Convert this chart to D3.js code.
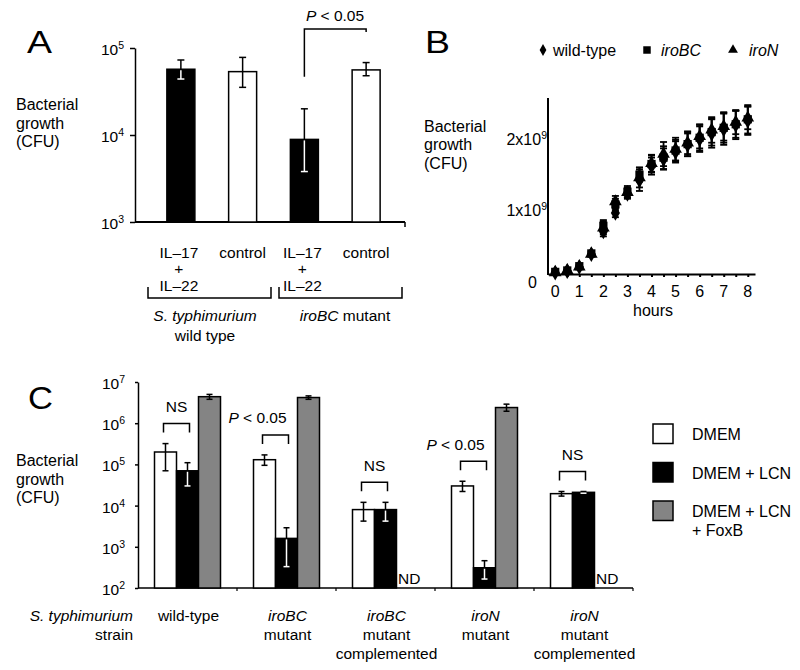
<!DOCTYPE html>
<html><head><meta charset="utf-8">
<script src="https://cdn.jsdelivr.net/npm/d3@7"></script>
<style>
body{margin:0;background:#fff}
text{font-family:"Liberation Sans",Arial,Helvetica,sans-serif;fill:#000}
</style>
</head><body>
<svg id="c" width="800" height="670"></svg>
<script>
// ================= Panel A data =================
const aCategories = ["IL–17 + IL–22", "control", "IL–17 + IL–22", "control"];
const aTreatment = ["cytokine", "control", "cytokine", "control"];
const aValues  = [57000, 53500, 8900, 56000];
const aErrLow  = [44000, 35300, 3800, 48000];
const aErrHigh = [72800, 78000, 20000, 68000];
const aYTicks  = [1e3, 1e4, 1e5];

// ================= Panel B data =================
const bHours     = [0, 0.5, 1, 1.5, 2, 2.5, 3, 3.5, 4, 4.5, 5, 5.5, 6, 6.5, 7, 7.5, 8];
const bWildType  = [0.02, 0.04, 0.10, 0.28, 0.60, 0.86, 1.13, 1.32, 1.52, 1.62, 1.72, 1.82, 1.90, 1.98, 2.04, 2.10, 2.16];
const bWildErr   = [0.01, 0.01, 0.02, 0.03, 0.07, 0.06, 0.07, 0.15, 0.12, 0.15, 0.15, 0.16, 0.18, 0.20, 0.22, 0.20, 0.20];
const bIroBC     = [0.03, 0.05, 0.11, 0.29, 0.68, 0.98, 1.16, 1.40, 1.55, 1.64, 1.74, 1.83, 1.92, 2.00, 2.06, 2.11, 2.18];
const bIroBCErr  = [0.01, 0.01, 0.02, 0.03, 0.08, 0.08, 0.08, 0.10, 0.12, 0.16, 0.15, 0.17, 0.18, 0.19, 0.21, 0.19, 0.20];
const bIroN      = [0.02, 0.05, 0.10, 0.28, 0.65, 1.02, 1.15, 1.36, 1.56, 1.69, 1.76, 1.85, 1.94, 2.03, 2.08, 2.14, 2.20];
const bIroNErr   = [0.01, 0.01, 0.02, 0.03, 0.09, 0.08, 0.07, 0.14, 0.12, 0.17, 0.16, 0.16, 0.17, 0.18, 0.20, 0.17, 0.16];
const bXTicks    = [0, 1, 2, 3, 4, 5, 6, 7, 8];
const bYTicks    = [0, 1, 2];          // ×10^9
const bSeriesNames = ["wild-type", "iroBC", "iroN"];

// ================= Panel C data =================
const cStrains    = ["wild-type", "iroBC mutant", "iroBC mutant complemented", "iroN mutant", "iroN mutant complemented"];
const cConditions = ["DMEM", "DMEM + LCN", "DMEM + LCN + FoxB"];
const cDMEM         = [2.0e5, 1.3e5, 8.0e3, 3.0e4, 1.95e4];
const cDMEMErrLow   = [7.0e4, 9.5e4, 4.2e3, 2.2e4, 1.7e4];
const cDMEMErrHigh  = [3.2e5, 1.7e5, 1.2e4, 3.9e4, 2.2e4];
const cLCN          = [7.0e4, 1.6e3, 8.0e3, 310, 2.1e4];
const cLCNErrLow    = [3.0e4, 330, 4.2e3, 165, 2.0e4];
const cLCNErrHigh   = [1.1e5, 2.9e3, 1.2e4, 460, 2.2e4];
const cFoxB         = [4.4e6, 4.2e6, null, 2.4e6, null];
const cFoxBErrLow   = [3.8e6, 3.8e6, null, 1.95e6, null];
const cFoxBErrHigh  = [5.0e6, 4.6e6, null, 2.9e6, null];
const cSignif       = ["NS", "P < 0.05", "NS", "P < 0.05", "NS"];
const cYTicks       = [1e2, 1e3, 1e4, 1e5, 1e6, 1e7];

// ================= drawing =================
const svg = d3.select("#c");
const FS = "15.5px";
const GRAY = "#848484";

function txt(g, x, y, s, opts = {}) {
  const t = g.append("text").attr("x", x).attr("y", y)
    .attr("text-anchor", opts.anchor || "start")
    .style("font-size", opts.size || FS);
  if (opts.italic) t.style("font-style", "italic");
  t.text(s);
  return t;
}
function richTxt(g, x, y, parts, anchor = "middle", size = FS) {
  const t = g.append("text").attr("x", x).attr("y", y).attr("text-anchor", anchor).style("font-size", size);
  parts.forEach(p => {
    const ts = t.append("tspan").text(p[0]);
    if (p[1]) ts.style("font-style", "italic");
  });
  return t;
}
function logLabel(g, x, y, v) {
  const t = g.append("text").attr("x", x).attr("y", y).attr("text-anchor", "end").style("font-size", FS);
  t.append("tspan").text("10");
  t.append("tspan").attr("dy", -6).style("font-size", "10.5px").text(Math.round(Math.log10(v)));
}
function yLabel(g, x, y0) {
  ["Bacterial", "growth", "(CFU)"].forEach((s, i) => txt(g, x, y0 + i * 18.7, s, {size: "16px"}));
}
function panelLetter(g, x, y, L) {
  g.append("text").attr("x", x).attr("y", y).style("font-size", "31px")
    .attr("textLength", 25).attr("lengthAdjust", "spacingAndGlyphs").text(L);
}
// error bar; if onBlack, the part inside the bar is white
function errBar(g, cx, yTop, yHi, yLo, onBlack, cap = 3.5) {
  g.append("line").attr("x1", cx).attr("x2", cx).attr("y1", yHi).attr("y2", yLo)
    .attr("stroke", "#000").attr("stroke-width", 1.5);
  g.append("line").attr("x1", cx - cap).attr("x2", cx + cap).attr("y1", yHi).attr("y2", yHi)
    .attr("stroke", "#000").attr("stroke-width", 1.5);
  g.append("line").attr("x1", cx - cap).attr("x2", cx + cap).attr("y1", yLo).attr("y2", yLo)
    .attr("stroke", onBlack ? "#fff" : "#000").attr("stroke-width", 1.5);
  if (onBlack) {
    g.append("line").attr("x1", cx).attr("x2", cx).attr("y1", Math.max(yTop + 1, yHi)).attr("y2", yLo)
      .attr("stroke", "#fff").attr("stroke-width", 1.5);
  }
}

// ---------------- Panel A ----------------
{
  const g = svg.append("g");
  const yA = d3.scaleLog().domain([1e3, 1e5]).range([222, 48]);
  const xA = d3.scaleBand().domain(d3.range(aCategories.length)).range([150, 397]);
  const bw = 28;
  panelLetter(g, 27, 53, "A");
  yLabel(g, 16, 110);

  const ax = g.append("g").attr("transform", "translate(135,0)")
    .call(d3.axisLeft(yA).tickValues(aYTicks).tickSize(5).tickSizeOuter(0).tickFormat(""));
  ax.selectAll("path,line").attr("stroke", "#000").attr("stroke-width", 1.5);
  aYTicks.forEach(v => logLabel(g, 124, yA(v) + 7, v));
  g.append("line").attr("x1", 135).attr("x2", 405).attr("y1", yA(1e3)).attr("y2", yA(1e3))
    .attr("stroke", "#000").attr("stroke-width", 1.8);
  g.append("line").attr("x1", 405).attr("x2", 405).attr("y1", yA(1e3)).attr("y2", yA(1e3) + 5)
    .attr("stroke", "#000").attr("stroke-width", 1.5);

  aValues.forEach((v, i) => {
    const cx = xA(i) + xA.bandwidth() / 2;
    const black = aTreatment[i] === "cytokine";
    g.append("rect").attr("x", cx - bw / 2).attr("y", yA(v)).attr("width", bw)
      .attr("height", yA(1e3) - yA(v)).attr("fill", black ? "#000" : "#fff")
      .attr("stroke", "#000").attr("stroke-width", 1.5);
    errBar(g, cx, yA(v), yA(aErrHigh[i]), yA(aErrLow[i]), black);
    if (black) {
      txt(g, cx - 2, 258, "IL–17", {anchor: "middle"});
      txt(g, cx - 2, 274, "+", {anchor: "middle"});
      txt(g, cx - 2, 291, "IL–22", {anchor: "middle"});
    } else {
      txt(g, cx, 258, "control", {anchor: "middle"});
    }
  });
  // strain brackets
  [[148, 271], [279, 402]].forEach(([xl, xr]) => {
    g.append("path").attr("d", `M${xl},287V298H${xr}V287`).attr("fill", "none")
      .attr("stroke", "#000").attr("stroke-width", 1.5);
  });
  richTxt(g, 205, 321, [["S. typhimurium", true]]);
  txt(g, 205, 341, "wild type", {anchor: "middle"});
  richTxt(g, 345, 321, [["iroBC", true], [" mutant", false]]);
  // significance bracket
  const c3 = xA(2) + xA.bandwidth() / 2, c4 = xA(3) + xA.bandwidth() / 2;
  const yb = yA(aErrHigh[2]) - 32;
  g.append("path").attr("d", `M${c3},${yb}V29H${c4}V32`).attr("fill", "none")
    .attr("stroke", "#000").attr("stroke-width", 1.5);
  richTxt(g, 335, 21, [["P", true], [" < 0.05", false]]);
}

// ---------------- Panel B ----------------
{
  const g = svg.append("g");
  const xB = d3.scaleLinear().domain([-0.3, 8.3]).range([548, 755]);
  const yB = d3.scaleLinear().domain([0, 2.48]).range([274, 98]);
  panelLetter(g, 425, 53, "B");
  yLabel(g, 424, 131.5);

  const xa = g.append("g").attr("transform", `translate(0,${yB(0)})`)
    .call(d3.axisBottom(xB).tickValues(bHours).tickSize(3).tickSizeOuter(0).tickFormat(""));
  xa.selectAll("path,line").attr("stroke", "#000").attr("stroke-width", 2);
  g.append("line").attr("x1", xB.range()[0]).attr("x2", xB.range()[0]).attr("y1", yB.range()[1]).attr("y2", yB(0) + 1)
    .attr("stroke", "#000").attr("stroke-width", 2);
  bXTicks.forEach(t => txt(g, xB(t), 296.5, String(t), {anchor: "middle", size: "16px"}));
  txt(g, 653, 316, "hours", {anchor: "middle", size: "16px"});
  bYTicks.forEach(v => {
    if (v === 0) { txt(g, 537, yB(0) + 13.5, "0", {anchor: "end", size: "16px"}); return; }
    const t = g.append("text").attr("x", 547).attr("y", yB(v) + 13).attr("text-anchor", "end").style("font-size", "16px");
    t.append("tspan").text(v + "x10");
    t.append("tspan").attr("dy", -6).style("font-size", "10.5px").text("9");
  });

  const series = [
    {vals: bWildType, err: bWildErr, sym: d3.symbolDiamond, size: 72},
    {vals: bIroN, err: bIroNErr, sym: d3.symbolTriangle, size: 70},
    {vals: bIroBC, err: bIroBCErr, sym: d3.symbolSquare, size: 68},
  ];
  series.forEach(s => {
    s.vals.forEach((v, i) => {
      const cx = xB(bHours[i]);
      const e = s.err[i];
      const y1 = yB(v + e), y2 = yB(v - e);
      g.append("line").attr("x1", cx).attr("x2", cx).attr("y1", y1).attr("y2", y2).attr("stroke", "#000").attr("stroke-width", 1.8);
      [y1, y2].forEach(yy => g.append("line").attr("x1", cx - 3.5).attr("x2", cx + 3.5).attr("y1", yy).attr("y2", yy)
        .attr("stroke", "#000").attr("stroke-width", 1.8));
    });
  });
  series.forEach(s => {
    s.vals.forEach((v, i) => {
      g.append("path").attr("d", d3.symbol(s.sym, s.size)())
        .attr("transform", `translate(${xB(bHours[i])},${yB(v)})`).attr("fill", "#000");
    });
  });
  // legend
  const leg = [
    {x: 543, sym: d3.symbolDiamond, size: 40, tx: 553, italic: false},
    {x: 647, sym: d3.symbolSquare, size: 56, tx: 661, italic: true},
    {x: 733, sym: d3.symbolTriangle, size: 42, tx: 749, italic: true},
  ];
  leg.forEach((l, i) => {
    g.append("path").attr("d", d3.symbol(l.sym, l.size)()).attr("transform", `translate(${l.x},50)`).attr("fill", "#000");
    txt(g, l.tx, 56, bSeriesNames[i], {size: "16px", italic: l.italic});
  });
}

// ---------------- Panel C ----------------
{
  const g = svg.append("g");
  const yC = d3.scaleLog().domain([1e2, 1e7]).range([588, 382]);
  const xC = d3.scaleBand().domain(d3.range(cStrains.length)).range([138, 633]);
  const bw = 22;
  panelLetter(g, 28, 409, "C");
  yLabel(g, 16, 466);

  const ax = g.append("g").attr("transform", "translate(138,0)")
    .call(d3.axisLeft(yC).tickValues(cYTicks).tickSize(3).tickSizeOuter(0).tickFormat(""));
  ax.selectAll("path,line").attr("stroke", "#000").attr("stroke-width", 1.5);
  cYTicks.forEach(v => logLabel(g, 125, yC(v) + 7, v));
  g.append("line").attr("x1", 138).attr("x2", xC.range()[1]).attr("y1", yC(1e2)).attr("y2", yC(1e2))
    .attr("stroke", "#000").attr("stroke-width", 1.5);
  cStrains.forEach((s, i) => {
    const xe = xC(i) + xC.step();
    g.append("line").attr("x1", xe).attr("x2", xe).attr("y1", yC(1e2)).attr("y2", yC(1e2) + 3)
      .attr("stroke", "#000").attr("stroke-width", 1.2);
  });

  const sets = [
    {v: cDMEM, lo: cDMEMErrLow, hi: cDMEMErrHigh, fill: "#fff"},
    {v: cLCN, lo: cLCNErrLow, hi: cLCNErrHigh, fill: "#000"},
    {v: cFoxB, lo: cFoxBErrLow, hi: cFoxBErrHigh, fill: GRAY},
  ];
  cStrains.forEach((s, i) => {
    const gc = xC(i) + xC.bandwidth() / 2;
    sets.forEach((set, j) => {
      const x0 = gc - 1.5 * bw + j * bw;
      const cx = x0 + bw / 2;
      const v = set.v[i];
      if (v == null) {
        txt(g, x0 + 1.5, 584, "ND", {size: FS});
        return;
      }
      g.append("rect").attr("x", x0).attr("y", yC(v)).attr("width", bw).attr("height", yC(1e2) - yC(v))
        .attr("fill", set.fill).attr("stroke", "#000").attr("stroke-width", 1.5);
      errBar(g, cx, yC(v), yC(set.hi[i]), yC(set.lo[i]), set.fill === "#000", 3);
    });
    const xa = gc - bw - 2, xb = gc + 2;
    const top = Math.min(yC(cDMEMErrHigh[i]), yC(cLCNErrHigh[i])) - 20;
    g.append("path").attr("d", `M${xa},${top + 9}V${top}H${xb}V${top + 9}`).attr("fill", "none")
      .attr("stroke", "#000").attr("stroke-width", 1.5);
    const mid = (xa + xb) / 2;
    if (cSignif[i] === "NS") {
      txt(g, mid, top - 11.5, "NS", {anchor: "middle"});
    } else {
      richTxt(g, mid - 18, top - 11.5, [["P", true], [" < 0.05", false]]);
    }
    const words = s.split(" ");
    const first = words[0];
    const italicFirst = first.startsWith("iro");
    txt(g, gc + 1, 621, first, {anchor: "middle", italic: italicFirst});
    words.slice(1).forEach((w, k) => txt(g, gc + 1, 640 + k * 19, w, {anchor: "middle"}));
  });
  txt(g, 133, 621, "S. typhimurium", {anchor: "end", italic: true});
  txt(g, 133, 640, "strain", {anchor: "end"});

  const legY = [424, 462.5, 501];
  const legFill = ["#fff", "#000", GRAY];
  cConditions.forEach((c, i) => {
    g.append("rect").attr("x", 653).attr("y", legY[i]).attr("width", 20).attr("height", 19.5)
      .attr("fill", legFill[i]).attr("stroke", "#000").attr("stroke-width", 1.5);
  });
  txt(g, 692, 439.5, cConditions[0], {size: "16px"});
  txt(g, 692, 478.5, cConditions[1], {size: "16px"});
  txt(g, 692, 516.5, "DMEM + LCN", {size: "16px"});
  txt(g, 692, 535.5, "+ FoxB", {size: "16px"});
}
</script>
</body></html>
